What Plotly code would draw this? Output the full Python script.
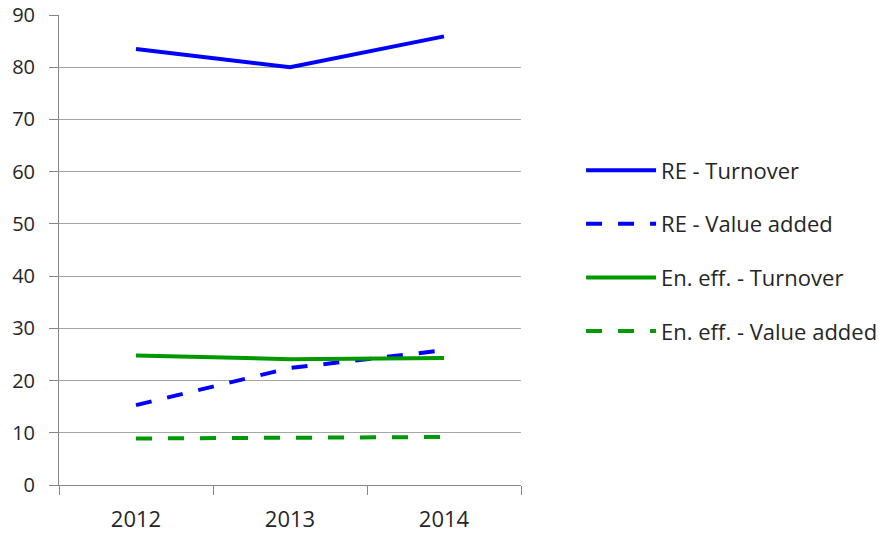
import plotly.graph_objects as go

years = ["2012", "2013", "2014"]
re_turnover = [83.5, 80.0, 85.9]
re_value_added = [15.3, 22.4, 25.8]
ee_turnover = [24.8, 24.1, 24.3]
ee_value_added = [8.9, 9.1, 9.2]

names = ["RE - Turnover", "RE - Value added", "En. eff. - Turnover", "En. eff. - Value added"]
series = [re_turnover, re_value_added, ee_turnover, ee_value_added]
colors = ["#0000FF", "#0000FF", "#009A00", "#009A00"]
dashes = ["solid", "16px,16px", "solid", "16px,16px"]

fig = go.Figure()
for i, (name, vals, col, dash) in enumerate(zip(names, series, colors, dashes)):
    fig.add_trace(go.Scatter(
        x=years, y=vals, name=name, mode="lines",
        line=dict(color=col, width=4, dash=dash),
        legendgroup=f"g{i}",
    ))

font_family = "Open Sans, Segoe UI, sans-serif"
fig.update_layout(
    width=895, height=533,
    margin=dict(l=59, r=371, t=15, b=48),
    paper_bgcolor="white", plot_bgcolor="white",
    font=dict(family=font_family, size=22, color="#262626"),
    showlegend=True,
    legend=dict(
        x=1.13, xanchor="left", y=0.714, yanchor="top",
        itemwidth=70, tracegroupgap=22,
        font=dict(family=font_family, size=22, color="#262626"),
        bgcolor="rgba(0,0,0,0)",
    ),
)
fig.update_xaxes(
    type="category", tickson="boundaries", ticks="outside", ticklen=9,
    tickcolor="#868686", showline=True, linecolor="#868686", linewidth=1,
    showgrid=False, zeroline=False, range=[-0.5, 2.5], automargin=False,
    tickfont=dict(size=22), ticklabelstandoff=15, ticklabeloverflow="allow",
)
fig.update_yaxes(
    range=[0, 90], dtick=10, ticks="outside", ticklen=9, tickcolor="#868686",
    showline=True, linecolor="#868686", linewidth=1, automargin=False,
    showgrid=True, gridcolor="#A6A6A6", gridwidth=1, zeroline=False,
    tickfont=dict(size=20), ticklabelstandoff=10, ticklabeloverflow="allow",
)

fig.write_html("out.html")
